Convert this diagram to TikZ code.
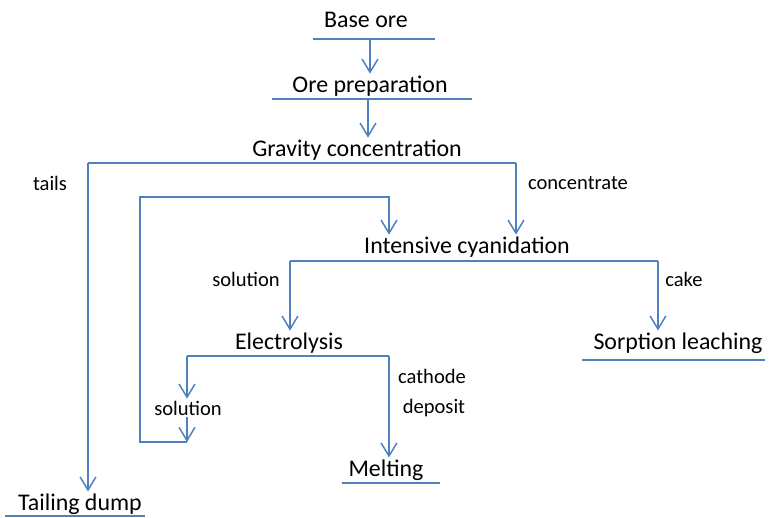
\documentclass[tikz,border=0pt]{standalone}
\usepackage{fontspec}
\setmainfont{Carlito}
\usetikzlibrary{arrows.meta}
\definecolor{flowblue}{RGB}{79,129,189}
\tikzset{stage/.style={font=\fontsize{13.6}{16}\selectfont, inner sep=1pt}}
\tikzset{tag/.style={font=\fontsize{11.7}{14}\selectfont, inner sep=1pt}}
\tikzset{rule/.style={draw=flowblue, line width=0.85pt}}
\tikzset{flow/.style={rule, -{Straight Barb[length=7.5pt,width=9pt]}}}

\begin{document}
\begin{tikzpicture}[x=0.02cm, y=-0.02cm]
\useasboundingbox (0,0) rectangle (772,518);
% stages
\node[stage] (base) at (366,20) {Base ore};
\node[stage] (prep) at (370,86) {Ore preparation};
\node[stage] (grav) at (357,150) {Gravity concentration};
\node[stage] (cyan) at (467,247) {Intensive cyanidation};
\node[stage] (elec) at (289,343) {Electrolysis};
\node[stage] (sorp) at (678,343) {Sorption leaching};
\node[stage] (melt) at (386,470) {Melting};
\node[stage] (dump) at (80,504) {Tailing dump};
% stream labels
\node[tag] (tails) at (50,183) {tails};
\node[tag] (conc) at (578,183) {concentrate};
\node[tag] (sol1) at (246,279) {solution};
\node[tag] (cake) at (684,279) {cake};
\node[tag] (sol2) at (188,408) {solution};
\node[tag] (cath) at (432,376) {cathode};
\node[tag] (depo) at (434,408) {deposit};
% underlines
\coordinate (baseL) at (313,39);
\coordinate (baseR) at (435,39);
\coordinate (prepL) at (272,99);
\coordinate (prepR) at (472,99);
\coordinate (gravL) at (88,163);
\coordinate (gravR) at (516,163);
\coordinate (cyanL) at (290,261);
\coordinate (cyanR) at (658,261);
\coordinate (elecL) at (187,356);
\coordinate (elecR) at (389,356);
\coordinate (sorpL) at (582,360);
\coordinate (sorpR) at (765,360);
\coordinate (meltL) at (342,483);
\coordinate (meltR) at (440,483);
\coordinate (dumpL) at (5,516);
\coordinate (dumpR) at (145,516);
\draw[rule] (baseL) -- (baseR);
\draw[rule] (prepL) -- (prepR);
\draw[rule] (gravL) -- (gravR);
\draw[rule] (cyanL) -- (cyanR);
\draw[rule] (elecL) -- (elecR);
\draw[rule] (sorpL) -- (sorpR);
\draw[rule] (meltL) -- (meltR);
\draw[rule] (dumpL) -- (dumpR);
% main flow
\coordinate (baseout) at (370,39);
\coordinate (prepout) at (368,99);
\draw[flow] (baseout) -- (baseout |- prep.north);
\draw[flow] (prepout) -- (prepout |- grav.north);
\draw[flow] (gravL) -- (gravL |- dump.north);
\draw[flow] (gravR) -- (gravR |- cyan.north);
\draw[flow] (cyanL) -- (cyanL |- elec.north);
\draw[flow] (cyanR) -- (cyanR |- sorp.north);
\draw[flow] (elecL) -- (elecL |- sol2.north);
\draw[flow] (elecR) -- (elecR |- melt.north);
% solution back to cyanidation
\coordinate (loopB) at (187,442);
\coordinate (loopBL) at (140,442);
\coordinate (loopTL) at (140,197);
\coordinate (loopTR) at (389,197);
\draw[flow] (sol2.south -| loopB) -- (loopB);
\draw[flow] (loopB) -- (loopBL) -- (loopTL) -- (loopTR) -- (loopTR |- cyan.north);
\end{tikzpicture}
\end{document}
